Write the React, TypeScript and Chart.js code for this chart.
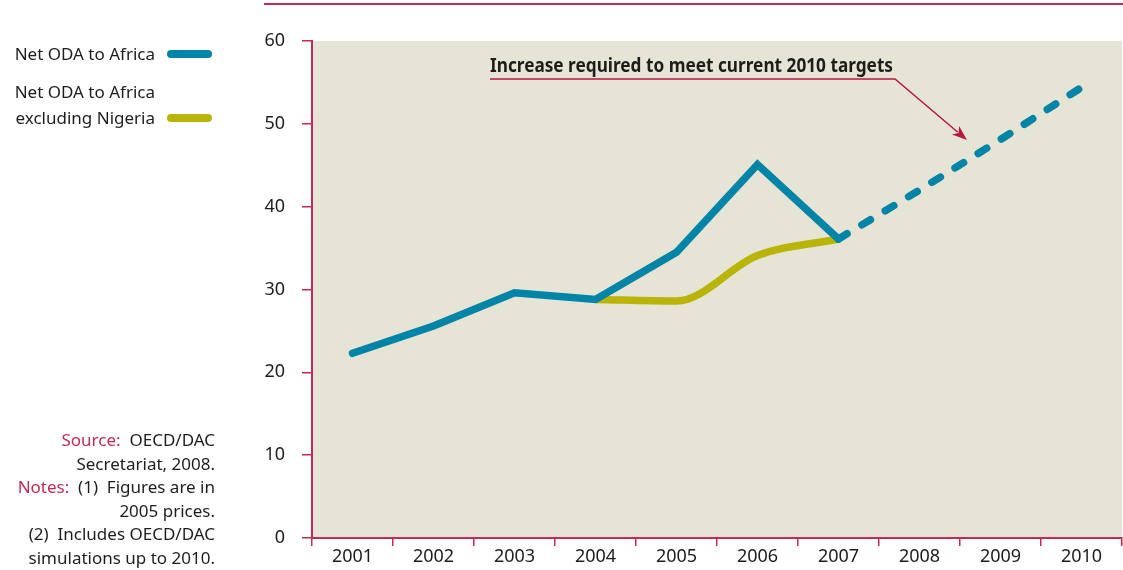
import React, { useEffect, useRef } from "react";
import { Chart, registerables } from "chart.js";

Chart.register(...registerables);

const years = ["2001", "2002", "2003", "2004", "2005", "2006", "2007", "2008", "2009", "2010"];
const netOda = [22.3, 25.6, 29.6, 28.8, 34.5, 45.1, 36.1, null, null, null];
const netOdaRequired = [null, null, null, null, null, null, 36.1, 42.0, 48.1, 54.4];
const netOdaExNigeria = [null, null, null, 28.8, 28.6, 34.1, 36.1, null, null, null];
const yMin = 0;
const yMax = 60;
const yStep = 10;

const BLUE = "#0084a8";
const YELLOW = "#b9b407";
const CRIMSON = "#c42a55";
const ARROW = "#b8173f";
const BG = "#e6e4d4";
const TEXT = "#1d1d1b";
const FONT = "'Noto Sans', 'Open Sans', sans-serif";
const annotationText = "Increase required to meet current 2010 targets";

const plotBg = {
  id: "plotBg",
  beforeDraw(chart: any) {
    const { ctx, chartArea } = chart;
    ctx.save();
    ctx.fillStyle = BG;
    ctx.fillRect(chartArea.left, chartArea.top, chartArea.right - chartArea.left, chartArea.bottom - chartArea.top);
    ctx.restore();
  },
};

const annotation = {
  id: "annotation",
  afterDatasetsDraw(chart: any) {
    const { ctx } = chart;
    ctx.save();
    ctx.font = `bold 19px ${FONT}`;
    ctx.fillStyle = TEXT;
    ctx.textBaseline = "alphabetic";
    const w = ctx.measureText(annotationText).width;
    const targetW = 403;
    ctx.translate(490, 72);
    ctx.scale(targetW / w, 1);
    ctx.fillText(annotationText, 0, 0);
    ctx.restore();

    ctx.save();
    ctx.strokeStyle = ARROW;
    ctx.lineWidth = 1.5;
    ctx.beginPath();
    ctx.moveTo(490, 79);
    ctx.lineTo(895, 79);
    const tipX = 967;
    const tipY = 140;
    const ang = Math.atan2(tipY - 79, tipX - 895);
    const backX = tipX - 12 * Math.cos(ang);
    const backY = tipY - 12 * Math.sin(ang);
    ctx.lineTo(backX, backY);
    ctx.stroke();
    ctx.fillStyle = ARROW;
    ctx.beginPath();
    const hl = 15;
    const hw = 5.5;
    const bx = tipX - hl * Math.cos(ang);
    const by = tipY - hl * Math.sin(ang);
    ctx.moveTo(tipX, tipY);
    ctx.lineTo(bx + hw * Math.sin(ang), by - hw * Math.cos(ang));
    ctx.lineTo(tipX - 11 * Math.cos(ang), tipY - 11 * Math.sin(ang));
    ctx.lineTo(bx - hw * Math.sin(ang), by + hw * Math.cos(ang));
    ctx.closePath();
    ctx.fill();
    ctx.restore();
  },
};

export default function App() {
  const ref = useRef<HTMLCanvasElement | null>(null);

  useEffect(() => {
    if (!ref.current) return;
    const chart = new Chart(ref.current, {
      type: "line",
      data: {
        labels: years,
        datasets: [
          {
            label: "Net ODA to Africa",
            data: netOda,
            borderColor: BLUE,
            borderWidth: 7.5,
            borderCapStyle: "round",
            borderJoinStyle: "miter",
            pointRadius: 0,
            tension: 0,
            spanGaps: false,
            order: 0,
          },
          {
            label: "Required",
            data: netOdaRequired,
            borderColor: BLUE,
            borderWidth: 7.5,
            borderCapStyle: "round",
            borderDash: [10, 17.3],
            pointRadius: 0,
            tension: 0,
            order: 1,
          },
          {
            label: "Net ODA to Africa excluding Nigeria",
            data: netOdaExNigeria,
            borderColor: YELLOW,
            borderWidth: 7.5,
            borderCapStyle: "round",
            pointRadius: 0,
            cubicInterpolationMode: "monotone",
            order: 2,
          },
        ],
      },
      options: {
        responsive: false,
        animation: false,
        devicePixelRatio: 1,
        layout: { padding: { left: 262, top: 41, right: 1, bottom: 0 } },
        plugins: { legend: { display: false }, tooltip: { enabled: false } },
        scales: {
          x: {
            offset: true,
            grid: {
              display: true,
              drawOnChartArea: false,
              offset: true,
              color: CRIMSON,
              lineWidth: 1.5,
              tickLength: 8,
            },
            border: { display: true, color: CRIMSON, width: 2 },
            ticks: { color: TEXT, font: { family: FONT, size: 18 }, padding: 0, maxRotation: 0 },
            afterFit(scale: any) {
              scale.height = 32;
            },
          },
          y: {
            min: yMin,
            max: yMax,
            ticks: { stepSize: yStep, color: TEXT, font: { family: FONT, size: 18 }, padding: 17 },
            grid: {
              display: true,
              drawOnChartArea: false,
              color: CRIMSON,
              lineWidth: 1.5,
              tickLength: 10,
            },
            border: { display: true, color: CRIMSON, width: 2 },
            afterFit(scale: any) {
              scale.width = 50;
            },
          },
        },
      },
      plugins: [plotBg, annotation],
    });
    return () => chart.destroy();
  }, []);

  const txt: React.CSSProperties = {
    position: "absolute",
    fontFamily: FONT,
    color: TEXT,
    fontSize: 17,
    whiteSpace: "nowrap",
    textAlign: "right",
    left: 0,
  };

  return (
    <div style={{ position: "fixed", left: 0, top: 0, width: 1123, height: 570, background: "#fff", overflow: "hidden" }}>
      <canvas ref={ref} width={1123} height={570} style={{ position: "absolute", left: 0, top: 0 }} />
      <div style={{ position: "absolute", left: 264, top: 3, width: 859, height: 1.5, background: CRIMSON }} />
      <div style={{ ...txt, top: 42, width: 155, lineHeight: "24px" }}>Net ODA to Africa</div>
      <div style={{ position: "absolute", left: 167, top: 50, width: 45, height: 8, borderRadius: 4, background: BLUE }} />
      <div style={{ ...txt, top: 79, width: 155, lineHeight: "26px" }}>
        Net ODA to Africa
        <br />
        excluding Nigeria
      </div>
      <div style={{ position: "absolute", left: 167, top: 114, width: 45, height: 8, borderRadius: 4, background: YELLOW }} />
      <div style={{ ...txt, top: 428, width: 215, lineHeight: "23.6px" }}>
        <span style={{ color: CRIMSON }}>Source:</span>&nbsp; OECD/DAC
        <br />
        Secretariat, 2008.
        <br />
        <span style={{ color: CRIMSON }}>Notes:</span>&nbsp; (1)&nbsp; Figures are in
        <br />
        2005 prices.
        <br />
        (2)&nbsp; Includes OECD/DAC
        <br />
        simulations up to 2010.
      </div>
    </div>
  );
}
